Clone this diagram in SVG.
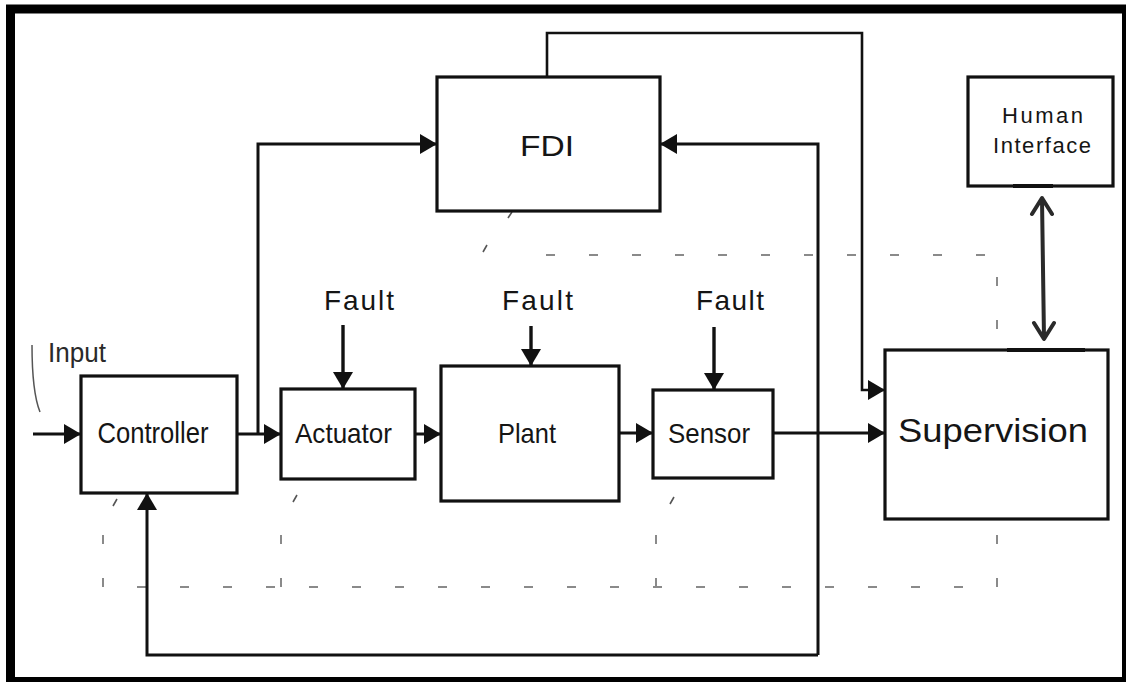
<svg xmlns="http://www.w3.org/2000/svg" width="1126" height="682" viewBox="0 0 1126 682">
<style>
.box{fill:#fff;stroke:#111;stroke-width:3.2}
.lbl{font-family:"Liberation Sans",Arial,sans-serif;fill:#151515;text-anchor:middle}
.wire{fill:none;stroke:#111;stroke-width:3}
.dash{fill:none;stroke:#8a8a8a;stroke-width:2;stroke-dasharray:9 34}
.tick{stroke:#555;stroke-width:1.6}
.dbl{fill:none;stroke:#2a2a2a;stroke-width:4;stroke-linecap:round;stroke-linejoin:round}
</style>
<defs>
<marker id="ah" viewBox="0 0 17 20" refX="17" refY="10" markerWidth="17" markerHeight="20" markerUnits="userSpaceOnUse" orient="auto">
<path d="M0,0 L17,10 L0,20 z" fill="#111"/>
</marker>
</defs>
<rect x="0" y="0" width="1126" height="682" fill="#fff"/>
<rect x="10.5" y="9" width="1116" height="672.5" fill="none" stroke="#000" stroke-width="9"/>

<g id="background-dashes">
<path class="dash" d="M103,535 V587 H997 V255 H516"/>
<path class="dash" d="M281,535 V587"/>
<path class="dash" d="M656,535 V587"/>
<path class="tick" d="M113,506 L117,499 M293,502 L297,495 M670,504 L674,497 M508,218 L512,212 M483,252 L487,245"/>
<path d="M32,345 Q32,392 40,412" fill="none" stroke="#555" stroke-width="1.5"/>
</g>

<g id="connectors">
<path class="wire" d="M33,434 H81" marker-end="url(#ah)"/>
<path class="wire" d="M237,434 H281" marker-end="url(#ah)"/>
<path class="wire" d="M258,434 V144 H437" marker-end="url(#ah)"/>
<path class="wire" d="M415,434 H441" marker-end="url(#ah)"/>
<path class="wire" d="M619,433 H653" marker-end="url(#ah)"/>
<path class="wire" d="M773,433 H885" marker-end="url(#ah)"/>
<path class="wire" style="stroke-width:2.6" d="M547,77 V33 H862 V390 H885" marker-end="url(#ah)"/>
<path class="wire" d="M818,655 V144 H660" marker-end="url(#ah)"/>
<path class="wire" d="M818,655 H147 V493" marker-end="url(#ah)"/>
<path class="wire" style="stroke-width:3.4" d="M343,325 V389" marker-end="url(#ah)"/>
<path class="wire" style="stroke-width:3.4" d="M531,326 V366" marker-end="url(#ah)"/>
<path class="wire" style="stroke-width:3.4" d="M714,327 V390" marker-end="url(#ah)"/>
<path class="dbl" d="M1042,199 L1044,338 M1032,214 L1042,198 L1052,214 M1034,323 L1044,339 L1054,323"/>
</g>

<g id="controller">
<rect class="box" x="81" y="376" width="156" height="117"/>
<text class="lbl" x="153" y="443" font-size="29" textLength="111" lengthAdjust="spacingAndGlyphs">Controller</text>
</g>
<g id="actuator">
<rect class="box" x="281" y="389" width="134" height="90"/>
<text class="lbl" x="343.5" y="443" font-size="28" textLength="97" lengthAdjust="spacingAndGlyphs">Actuator</text>
</g>
<g id="plant">
<rect class="box" x="441" y="366" width="178" height="135"/>
<text class="lbl" x="527" y="443" font-size="28" textLength="58" lengthAdjust="spacingAndGlyphs">Plant</text>
</g>
<g id="sensor">
<rect class="box" x="653" y="390" width="120" height="88"/>
<text class="lbl" x="709" y="443" font-size="28" textLength="82" lengthAdjust="spacingAndGlyphs">Sensor</text>
</g>
<g id="fdi">
<rect class="box" x="437" y="77" width="223" height="134"/>
<text class="lbl" x="547" y="156" font-size="30" textLength="54" lengthAdjust="spacingAndGlyphs">FDI</text>
</g>
<g id="supervision">
<rect class="box" x="885" y="350" width="223" height="169"/>
<path d="M1007,350 H1085" stroke="#111" stroke-width="3.8"/>
<text class="lbl" x="993" y="442" font-size="34" textLength="190" lengthAdjust="spacingAndGlyphs">Supervision</text>
</g>
<g id="human-interface">
<rect class="box" x="968" y="77" width="145" height="109"/>
<path d="M1013,186 H1053" stroke="#111" stroke-width="3.8"/>
<text class="lbl" x="1042.5" y="123" font-size="22" textLength="81" lengthAdjust="spacing">Human</text>
<text class="lbl" x="1042" y="153" font-size="22" textLength="98" lengthAdjust="spacing">Interface</text>
</g>
<g id="fault-labels">
<text class="lbl" x="359" y="310" font-size="28" textLength="70" lengthAdjust="spacing">Fault</text>
<text class="lbl" x="537.5" y="310" font-size="28" textLength="71" lengthAdjust="spacing">Fault</text>
<text class="lbl" x="730" y="310" font-size="28" textLength="68" lengthAdjust="spacing">Fault</text>
<text class="lbl" x="77" y="362" font-size="27" textLength="58" lengthAdjust="spacingAndGlyphs" style="fill:#2a2a2a">Input</text>
</g>
</svg>
